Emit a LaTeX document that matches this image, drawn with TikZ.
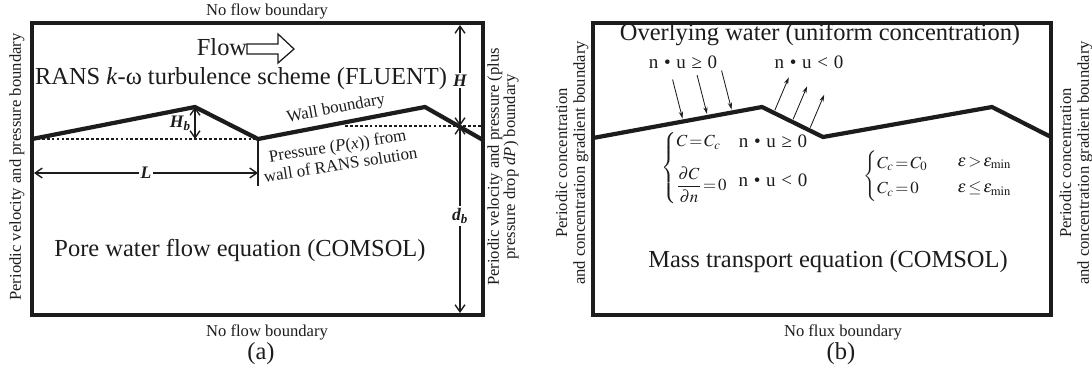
\documentclass[tikz,border=0pt]{standalone}
\usepackage{amsmath}
\usepackage{mathptmx}
\usepackage{fontspec}
\setmainfont{Liberation Serif}
\usepackage{tikz}
\usetikzlibrary{arrows.meta,positioning,calc}
\definecolor{ink}{HTML}{1C1C1C}
\newcommand{\condfont}{\fontsize{13.5}{15}\selectfont\spaceskip 0.3em\relax}
\newcommand{\eqnfont}{\fontsize{12}{14}\selectfont\thickmuskip 2mu\relax\medmuskip 2mu\relax}

\begin{document}
\begin{tikzpicture}[x=0.025cm, y=-0.025cm, every node/.style={text=ink,inner sep=1pt},
  frame/.style={draw=ink,line width=3.2pt},
  wall/.style={draw=ink,line width=3pt,line join=miter},
  datum/.style={draw=ink,line width=0.8pt,dash pattern=on 2pt off 1.5pt},
  dim/.style={draw=ink,line width=1pt,<->,>={Straight Barb[length=5pt,width=7pt]}},
  flux/.style={draw=ink,line width=0.6pt,-{Stealth[length=5pt,width=3pt]}},
  big/.style={font=\fontsize{17.4}{20}\selectfont},
  bnd/.style={font=\fontsize{11.8}{12.6}\selectfont,align=center},
  note/.style={font=\fontsize{12}{13.5}\selectfont,align=center},
  cond/.style={font=\condfont},
  eqn/.style={font=\eqnfont,anchor=west},
  dimlbl/.style={fill=white,inner sep=1.5pt,font=\fontsize{12.5}{14}\selectfont\bfseries\itshape}]
\useasboundingbox (0,0) rectangle (1092,375);

% ---- (a) flow model
\coordinate (aNW) at (32,23);
\coordinate (aSE) at (483,315);
\coordinate (a1) at (32,139);
\coordinate (a2) at (195,107);
\coordinate (a3) at (258,139);
\coordinate (a4) at (425,107);
\coordinate (a5) at (483,140);
\draw[datum] (a1) -- (a3);
\draw[datum] (345,126) -- (483,126);
\draw[frame] (aNW) rectangle (aSE);
\draw[wall] (a1) -- (a2) -- (a3) -- (a4) -- (a5);

\node[bnd] (aTop) at (267,11) {No flow boundary};
\node[bnd] (aBot) at (267,332) {No flow boundary};
\node[big] (aCap) at (261,354) {(a)};
\node[bnd,rotate=90] (aLeft) at (17,167) {Periodic velocity and pressure boundary};
\node[bnd,rotate=90,font=\fontsize{11.8}{11.6}\selectfont] (aRight) at (503,167) {Periodic velocity and pressure (plus\\pressure drop \textit{dP}) boundary};

\node[big] (flow) at (222,47) {Flow};
\draw[draw=ink,line width=0.9pt] (247,44) -- (278,44) -- (278,34) -- (294,49) -- (278,63) -- (278,54) -- (247,54) -- cycle;
\node[big] (rans) at (241,79) {RANS \textit{k}-ω turbulence scheme (FLUENT)};
\node[big] (pore) at (240,250) {Pore water flow equation (COMSOL)};
\node[note,rotate=10.5] (wallLbl) at (336,109) {Wall boundary};
\node[note,rotate=9] (presLbl) at (339,155) {Pressure (\textit{P}(\textit{x})) from\\wall of RANS solution};

% dimensions
\coordinate (hTop) at (460,25);
\coordinate (hMid) at (460,126);
\coordinate (hBot) at (460,313);
\draw[dim] (hTop) -- node[dimlbl,pos=0.55] {H} (hMid);
\draw[dim] (hMid) -- node[dimlbl,pos=0.48] {d\textsubscript{b}} (hBot);
\coordinate (hbBot) at (195,139);
\draw[dim] (a2) -- node[dimlbl,fill=none,left=1pt] {H\textsubscript{b}} (hbBot);
\coordinate (lLeft) at (34,173);
\coordinate (lRight) at (258,173);
\coordinate (lTick) at (258,186);
\draw[draw=ink,line width=1pt] (a3) -- (lTick);
\draw[dim] (lLeft) -- node[dimlbl] {L} (lRight);

% ---- (b) transport model
\coordinate (bNW) at (593,23);
\coordinate (bSE) at (1051,315);
\coordinate (b1) at (593,138);
\coordinate (b2) at (762,107);
\coordinate (b3) at (823,137);
\coordinate (b4) at (992,107);
\coordinate (b5) at (1051,137);
\draw[frame] (bNW) rectangle (bSE);
\draw[wall] (b1) -- (b2) -- (b3) -- (b4) -- (b5);

\node[big] (over) at (820,35) {Overlying water (uniform concentration)};
\node[big] (mass) at (828,262) {Mass transport equation (COMSOL)};
\node[bnd] (bBot) at (843,332) {No flux boundary};
\node[big] (bCap) at (841,354) {(b)};
\node[bnd,rotate=90] (bLeft) at (572,163) {Periodic concentration\\and concentration gradient boundary};
\node[bnd,rotate=90] (bRight) at (1076,163) {Periodic concentration\\and concentration gradient boundary};

\node[cond] (inLbl) at (683,62) {n • u ≥ 0};
\node[cond] (outLbl) at (809,62) {n • u \textless{} 0};
\foreach \p in {0.53,0.675,0.82}
  \draw[flux] ($(b1)!\p!(b2)+(-10,-42)$) -- ($(b1)!\p!(b2)+(0,-3)$);
\foreach \p in {0.21,0.51,0.79}
  \draw[flux] ($(b2)!\p!(b3)+(0,-3)$) -- ($(b2)!\p!(b3)+(14,-36)$);

% boundary conditions
\node[eqn] (bcIn) at (660,168) {$\left\{\begin{array}{@{}l@{}} C=C_c\\[10pt]
  \dfrac{\partial C}{\partial n}=0\end{array}\right.$};
\node[cond] (bcInA) at (773,141) {n • u ≥ 0};
\node[cond] (bcInB) at (773,180) {n • u \textless{} 0};
\node[eqn] (bcCc) at (862,176) {\renewcommand\arraystretch{1.3}$\left\{\begin{array}{@{}l@{}} C_c=C_0\\
  C_c=0\end{array}\right.$};
\node[eqn] (bcEpsA) at (956,163) {$\varepsilon>\varepsilon_{\min}$};
\node[eqn] (bcEpsB) at (956,189) {$\varepsilon\le\varepsilon_{\min}$};
\end{tikzpicture}
\end{document}
